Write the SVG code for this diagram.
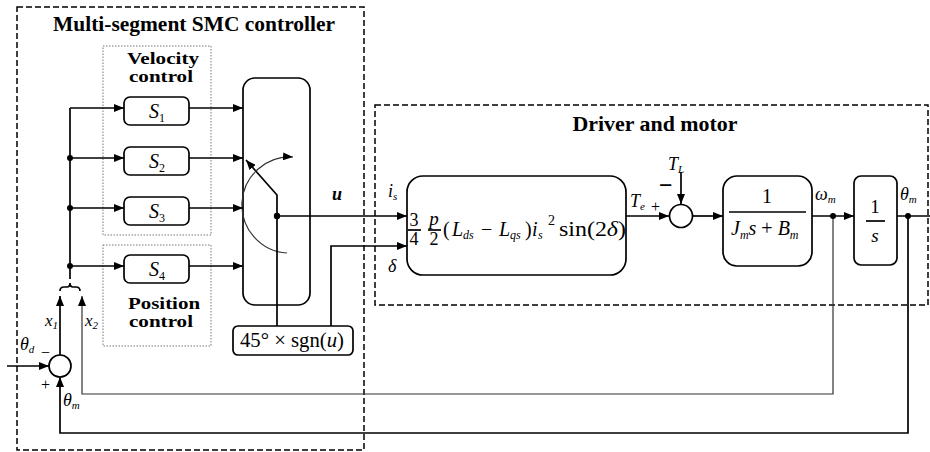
<svg xmlns="http://www.w3.org/2000/svg" width="930" height="452" viewBox="0 0 930 452" font-family="'Liberation Serif', 'DejaVu Serif', serif">
<defs>
<style>
.ln{stroke:#000;stroke-width:1.7;fill:none}
.thin{stroke:#333;stroke-width:1.2;fill:none}
.bx{stroke:#000;stroke-width:1.7;fill:#fff}
.dash{stroke:#000;stroke-width:1.5;fill:none;stroke-dasharray:6 3}
.dot{stroke:#777;stroke-width:1;fill:none;stroke-dasharray:1.5 1.5}
text{font-family:'Liberation Serif','DejaVu Serif',serif;fill:#000}
.b{font-weight:bold}
.i{font-style:italic}
.jd{fill:#000}
</style>
<marker id="ar" viewBox="0 0 10 8" refX="10" refY="4" markerWidth="10" markerHeight="8" markerUnits="userSpaceOnUse" orient="auto"><path d="M0,0 L10,4 L0,8 z" fill="#000"/></marker>
</defs>
<rect width="930" height="452" fill="#fff"/>

<g id="smc-frame">
<rect class="dash" x="17" y="7" width="347" height="443"/>
<text class="b" x="194" y="31" font-size="20" text-anchor="middle" textLength="282" lengthAdjust="spacingAndGlyphs">Multi-segment SMC controller</text>
</g>

<g id="velocity-control">
<rect class="dot" x="103" y="46" width="108" height="189"/>
<text class="b" x="163" y="64" font-size="17" text-anchor="middle" textLength="72" lengthAdjust="spacingAndGlyphs">Velocity</text>
<text class="b" x="161" y="82" font-size="17" text-anchor="middle" textLength="64" lengthAdjust="spacingAndGlyphs">control</text>
</g>

<g id="position-control">
<rect class="dot" x="103" y="245" width="108" height="101"/>
<text class="b" x="164" y="309" font-size="17" text-anchor="middle" textLength="72" lengthAdjust="spacingAndGlyphs">Position</text>
<text class="b" x="161" y="327" font-size="17" text-anchor="middle" textLength="64" lengthAdjust="spacingAndGlyphs">control</text>
</g>

<g id="S1">
<rect class="bx" x="124" y="97" width="65" height="28" rx="6"/>
<text x="149" y="118" font-size="20"><tspan class="i">S</tspan><tspan font-size="12" dy="4">1</tspan></text>
</g>
<g id="S2">
<rect class="bx" x="124" y="147" width="65" height="28" rx="6"/>
<text x="149" y="168" font-size="20"><tspan class="i">S</tspan><tspan font-size="12" dy="4">2</tspan></text>
</g>
<g id="S3">
<rect class="bx" x="124" y="197" width="65" height="28" rx="6"/>
<text x="149" y="218" font-size="20"><tspan class="i">S</tspan><tspan font-size="12" dy="4">3</tspan></text>
</g>
<g id="S4">
<rect class="bx" x="124" y="255" width="65" height="28" rx="6"/>
<text x="149" y="276" font-size="20"><tspan class="i">S</tspan><tspan font-size="12" dy="4">4</tspan></text>
</g>

<g id="switch">
<rect class="bx" x="243" y="78" width="67" height="227" rx="12"/>
<path class="ln" d="M277,216 V195 L246,160" marker-end="url(#ar)"/>
<path class="thin" d="M287,253 A48,48 0 0 1 293,157" marker-end="url(#ar)"/>
</g>

<g id="sgn">
<rect class="bx" x="233" y="326" width="120" height="29" rx="5"/>
<text x="240" y="347" font-size="21" textLength="104" lengthAdjust="spacingAndGlyphs">45° × sgn(<tspan class="i">u</tspan>)</text>
</g>

<g id="driver-frame">
<rect class="dash" x="375" y="105" width="553" height="200"/>
<text class="b" x="655" y="131" font-size="20" text-anchor="middle" textLength="165" lengthAdjust="spacingAndGlyphs">Driver and motor</text>
</g>

<g id="torque">
<rect class="bx" x="407" y="176" width="219" height="99" rx="16"/>
<text x="414" y="226" font-size="18" text-anchor="middle">3</text>
<line class="ln" x1="408" y1="230" x2="421" y2="230" stroke-width="1.2"/>
<text x="414" y="245" font-size="18" text-anchor="middle">4</text>
<text class="i" x="434" y="225" font-size="19" text-anchor="middle">p</text>
<line class="ln" x1="428" y1="230" x2="441" y2="230" stroke-width="1.2"/>
<text x="434" y="245" font-size="18" text-anchor="middle">2</text>
<text y="236" font-size="20"><tspan x="443">(</tspan><tspan class="i" x="452">L</tspan><tspan class="i" x="463" dy="3" font-size="12">ds</tspan><tspan x="481" dy="-3">−</tspan><tspan class="i" x="499">L</tspan><tspan class="i" x="510" dy="3" font-size="12">qs</tspan><tspan x="525" dy="-3">)</tspan><tspan class="i" x="532">i</tspan><tspan class="i" x="538" dy="3" font-size="12">s</tspan><tspan x="548" dy="-14" font-size="14">2</tspan></text>
<text x="559" y="236" font-size="20" textLength="67" lengthAdjust="spacingAndGlyphs">sin(2<tspan class="i">δ</tspan>)</text>
<text class="i" x="388" y="197" font-size="18">i<tspan font-size="11" dy="3">s</tspan></text>
<text class="i" x="388" y="272" font-size="18">δ</text>
</g>

<g id="sum-torque">
<circle class="bx" cx="681" cy="216" r="11.5"/>
<text class="i" x="630" y="207" font-size="18">T<tspan font-size="11" dy="3">e</tspan></text>
<text x="651" y="212" font-size="16">+</text>
<text class="i" x="668" y="170" font-size="18">T<tspan font-size="11" dy="3">L</tspan></text>
<text class="b" x="659" y="193" font-size="24">−</text>
</g>

<g id="plant">
<rect class="bx" x="723" y="176" width="89" height="90" rx="14"/>
<text x="767" y="203" font-size="20" text-anchor="middle">1</text>
<line class="ln" x1="729" y1="212" x2="806" y2="212" stroke-width="1.2"/>
<text x="731" y="235" font-size="20"><tspan class="i">J</tspan><tspan class="i" font-size="12" dy="4">m</tspan><tspan class="i" dy="-4">s</tspan> + <tspan class="i">B</tspan><tspan class="i" font-size="12" dy="4">m</tspan></text>
<text class="i" x="815" y="200" font-size="18">ω<tspan font-size="11" dy="3">m</tspan></text>
</g>

<g id="integrator">
<rect class="bx" x="854" y="176" width="43" height="89" rx="7"/>
<text x="875" y="213" font-size="19" text-anchor="middle">1</text>
<line class="ln" x1="866" y1="221" x2="885" y2="221" stroke-width="1.2"/>
<text class="i" x="875" y="242" font-size="19" text-anchor="middle">s</text>
<text class="i" x="900" y="200" font-size="18">θ<tspan font-size="11" dy="3">m</tspan></text>
</g>

<g id="sum-position">
<circle class="bx" cx="60" cy="366" r="11"/>
<text class="i" x="20" y="350" font-size="18">θ<tspan font-size="11" dy="3">d</tspan></text>
<text x="41" y="358" font-size="16">−</text>
<text x="41" y="390" font-size="16">+</text>
<text class="i" x="63" y="406" font-size="18">θ<tspan font-size="11" dy="3">m</tspan></text>
<text class="i" x="45" y="326" font-size="17">x<tspan font-size="11" dy="3">1</tspan></text>
<text class="i" x="85" y="326" font-size="17">x<tspan font-size="11" dy="3">2</tspan></text>
</g>

<g id="labels">
<text class="i b" x="332" y="200" font-size="18">u</text>
</g>

<g id="connectors">
<path class="ln" d="M70,108 V279"/>
<path class="ln" d="M60,291 Q60,287 64,287 H67 Q70,287 70,283 Q70,287 73,287 H76 Q80,287 80,291"/>
<path class="ln" d="M70,108 H124" marker-end="url(#ar)"/>
<path class="ln" d="M70,158 H124" marker-end="url(#ar)"/>
<path class="ln" d="M70,208 H124" marker-end="url(#ar)"/>
<path class="ln" d="M70,266 H124" marker-end="url(#ar)"/>
<path class="ln" d="M189,108 H243" marker-end="url(#ar)"/>
<path class="ln" d="M189,158 H243" marker-end="url(#ar)"/>
<path class="ln" d="M189,208 H243" marker-end="url(#ar)"/>
<path class="ln" d="M189,266 H243" marker-end="url(#ar)"/>
<path class="ln" d="M277,216 H407" marker-end="url(#ar)"/>
<path class="ln" d="M277,216 V326"/>
<path class="ln" d="M331,326 V246 H407" marker-end="url(#ar)"/>
<path class="ln" d="M626,216 H669" marker-end="url(#ar)"/>
<path class="ln" d="M681,172 V204" marker-end="url(#ar)"/>
<path class="ln" d="M692,216 H723" marker-end="url(#ar)"/>
<path class="ln" d="M812,216 H854" marker-end="url(#ar)"/>
<path class="ln" d="M897,216 H930"/>
<path class="thin" d="M833,216 V394 H82 V296" marker-end="url(#ar)"/>
<path class="ln" d="M908,216 V433 H60 V377" marker-end="url(#ar)"/>
<path class="ln" d="M60,355 V296" marker-end="url(#ar)"/>
<path class="ln" d="M7,366 H49" marker-end="url(#ar)"/>
<circle class="jd" cx="70" cy="158" r="3"/>
<circle class="jd" cx="70" cy="208" r="3"/>
<circle class="jd" cx="70" cy="266" r="3"/>
<circle class="jd" cx="277" cy="216" r="3.2"/>
<circle class="jd" cx="833" cy="216" r="3"/>
<circle class="jd" cx="908" cy="216" r="3"/>
</g>
</svg>
